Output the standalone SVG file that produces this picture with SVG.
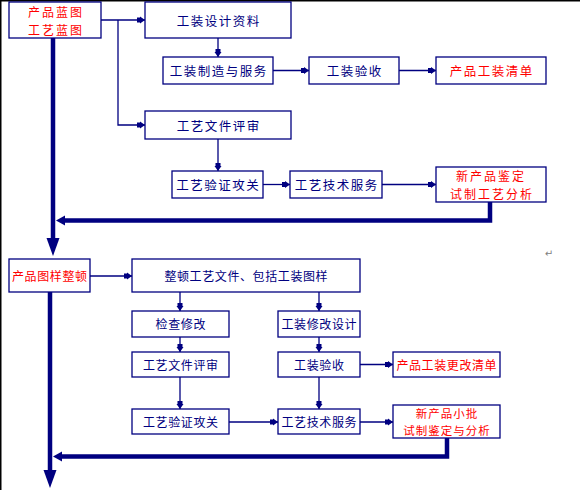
<svg xmlns="http://www.w3.org/2000/svg" width="580" height="490" viewBox="0 0 580 490">
<style>
.box{fill:#fff;stroke:#000080;stroke-width:1.3}
.t{font-family:"Noto Sans CJK SC","Noto Sans CJK TC",sans-serif;fill:#000080;text-anchor:middle;dominant-baseline:central}
.tt{font-size:12.5px;letter-spacing:1.5px}
.t2{font-size:12px;letter-spacing:2px}
.tb{font-size:12px;letter-spacing:0.6px}
.tb2{font-size:11.5px;letter-spacing:1px}
.red{fill:#ff0000}
.ln{fill:none;stroke:#000080;stroke-width:1.3}
.thick{fill:none;stroke:#000080;stroke-width:4.5}
.head{fill:#000080}
</style>
<defs>
<marker id="a" markerUnits="userSpaceOnUse" markerWidth="10" markerHeight="10" viewBox="0 -5 9 10" refX="8" refY="0" orient="auto">
<path d="M0,-2.5 H3 V-3.5 L8,0 L3,3.5 V2.5 H0 Z" fill="#000080"/>
</marker>
</defs>
<rect width="580" height="490" fill="#fff"/>
<line x1="0" y1="0.75" x2="580" y2="0.75" stroke="#000" stroke-width="1.5"/>
<line x1="0.75" y1="0" x2="0.75" y2="490" stroke="#000" stroke-width="1.5"/>

<g id="connectors">
<path class="ln" d="M101,20 H145" marker-end="url(#a)"/>
<path class="ln" d="M118,20 V125 H145" marker-end="url(#a)"/>
<path class="ln" d="M218,38 V57" marker-end="url(#a)"/>
<path class="ln" d="M273,70.5 H309" marker-end="url(#a)"/>
<path class="ln" d="M399,70.5 H436" marker-end="url(#a)"/>
<path class="ln" d="M218,139 V171" marker-end="url(#a)"/>
<path class="ln" d="M263,184.5 H290" marker-end="url(#a)"/>
<path class="ln" d="M382,184.5 H436" marker-end="url(#a)"/>
<path class="ln" d="M90,276 H132" marker-end="url(#a)"/>
<path class="ln" d="M180,292 V311" marker-end="url(#a)"/>
<path class="ln" d="M180,337 V352" marker-end="url(#a)"/>
<path class="ln" d="M180,377 V409" marker-end="url(#a)"/>
<path class="ln" d="M229,422 H278" marker-end="url(#a)"/>
<path class="ln" d="M319,292 V311" marker-end="url(#a)"/>
<path class="ln" d="M319,337 V352" marker-end="url(#a)"/>
<path class="ln" d="M319,377 V409" marker-end="url(#a)"/>
<path class="ln" d="M360,364.5 H393" marker-end="url(#a)"/>
<path class="ln" d="M360,422 H393" marker-end="url(#a)"/>

<path class="thick" d="M53,38 V240"/>
<polygon class="head" points="46.5,238 59.5,238 53,256"/>
<path class="thick" d="M490,202 V220.5 H63"/>
<polygon class="head" points="65,215.5 65,225.5 56,220.5"/>
<path class="thick" d="M50,292 V472"/>
<polygon class="head" points="43.5,470 56.5,470 50,488"/>
<path class="thick" d="M447,438 V456.5 H62"/>
<polygon class="head" points="62,451.5 62,461.5 53,456.5"/>
</g>

<g id="n1"><rect class="box" x="9" y="2" width="92" height="36"/>
<text class="t t2 red" x="56" y="11.5">产品蓝图</text><text class="t t2 red" x="56" y="29">工艺蓝图</text></g>
<g id="n2"><rect class="box" x="145" y="2" width="146" height="36"/><text class="t tt" x="218.7" y="20">工装设计资料</text></g>
<g id="n3"><rect class="box" x="163" y="57" width="110" height="27"/><text class="t tt" x="218.7" y="70.5">工装制造与服务</text></g>
<g id="n4"><rect class="box" x="309" y="57" width="90" height="27"/><text class="t tt" x="354.7" y="70.5">工装验收</text></g>
<g id="n5"><rect class="box" x="436" y="57" width="110" height="27"/><text class="t tt red" x="491.7" y="70.5">产品工装清单</text></g>
<g id="n6"><rect class="box" x="145" y="111" width="146" height="28"/><text class="t tt" x="218.7" y="125">工艺文件评审</text></g>
<g id="n7"><rect class="box" x="172" y="171" width="91" height="27"/><text class="t tt" x="218.2" y="184.5">工艺验证攻关</text></g>
<g id="n8"><rect class="box" x="290" y="171" width="92" height="27"/><text class="t tt" x="336.7" y="184.5">工艺技术服务</text></g>
<g id="n9"><rect class="box" x="436" y="167" width="110" height="35"/>
<text class="t t2 red" x="491" y="175.8">新产品鉴定</text><text class="t t2 red" x="492" y="193.4">试制工艺分析</text></g>

<g id="m1"><rect class="box" x="9" y="259" width="81" height="33"/><text class="t tb red" x="49.8" y="275.5">产品图样整顿</text></g>
<g id="m2"><rect class="box" x="132" y="259" width="228" height="33"/><text class="t tb" x="246.3" y="275.5">整顿工艺文件、包括工装图样</text></g>
<g id="m3"><rect class="box" x="132" y="311" width="97" height="26"/><text class="t tb" x="180.8" y="323.5">检查修改</text></g>
<g id="m4"><rect class="box" x="132" y="352" width="97" height="25"/><text class="t tb" x="180.8" y="364">工艺文件评审</text></g>
<g id="m5"><rect class="box" x="132" y="409" width="97" height="25"/><text class="t tb" x="180.8" y="421.5">工艺验证攻关</text></g>
<g id="m6"><rect class="box" x="278" y="311" width="82" height="26"/><text class="t tb" x="319.3" y="323.5">工装修改设计</text></g>
<g id="m7"><rect class="box" x="278" y="352" width="82" height="25"/><text class="t tb" x="319.3" y="364">工装验收</text></g>
<g id="m8"><rect class="box" x="278" y="409" width="82" height="25"/><text class="t tb" x="319.3" y="421.5">工艺技术服务</text></g>
<g id="m9"><rect class="box" x="393" y="352" width="107" height="25"/><text class="t tb red" x="446.8" y="364">产品工装更改清单</text></g>
<g id="m10"><rect class="box" x="393" y="405" width="107" height="33"/>
<text class="t tb2 red" x="447" y="412.8">新产品小批</text><text class="t tb2 red" x="447" y="429.6">试制鉴定与分析</text></g>

<text x="549" y="257" font-family="DejaVu Sans, sans-serif" font-size="10" fill="#808080" text-anchor="middle">↵</text>
</svg>
